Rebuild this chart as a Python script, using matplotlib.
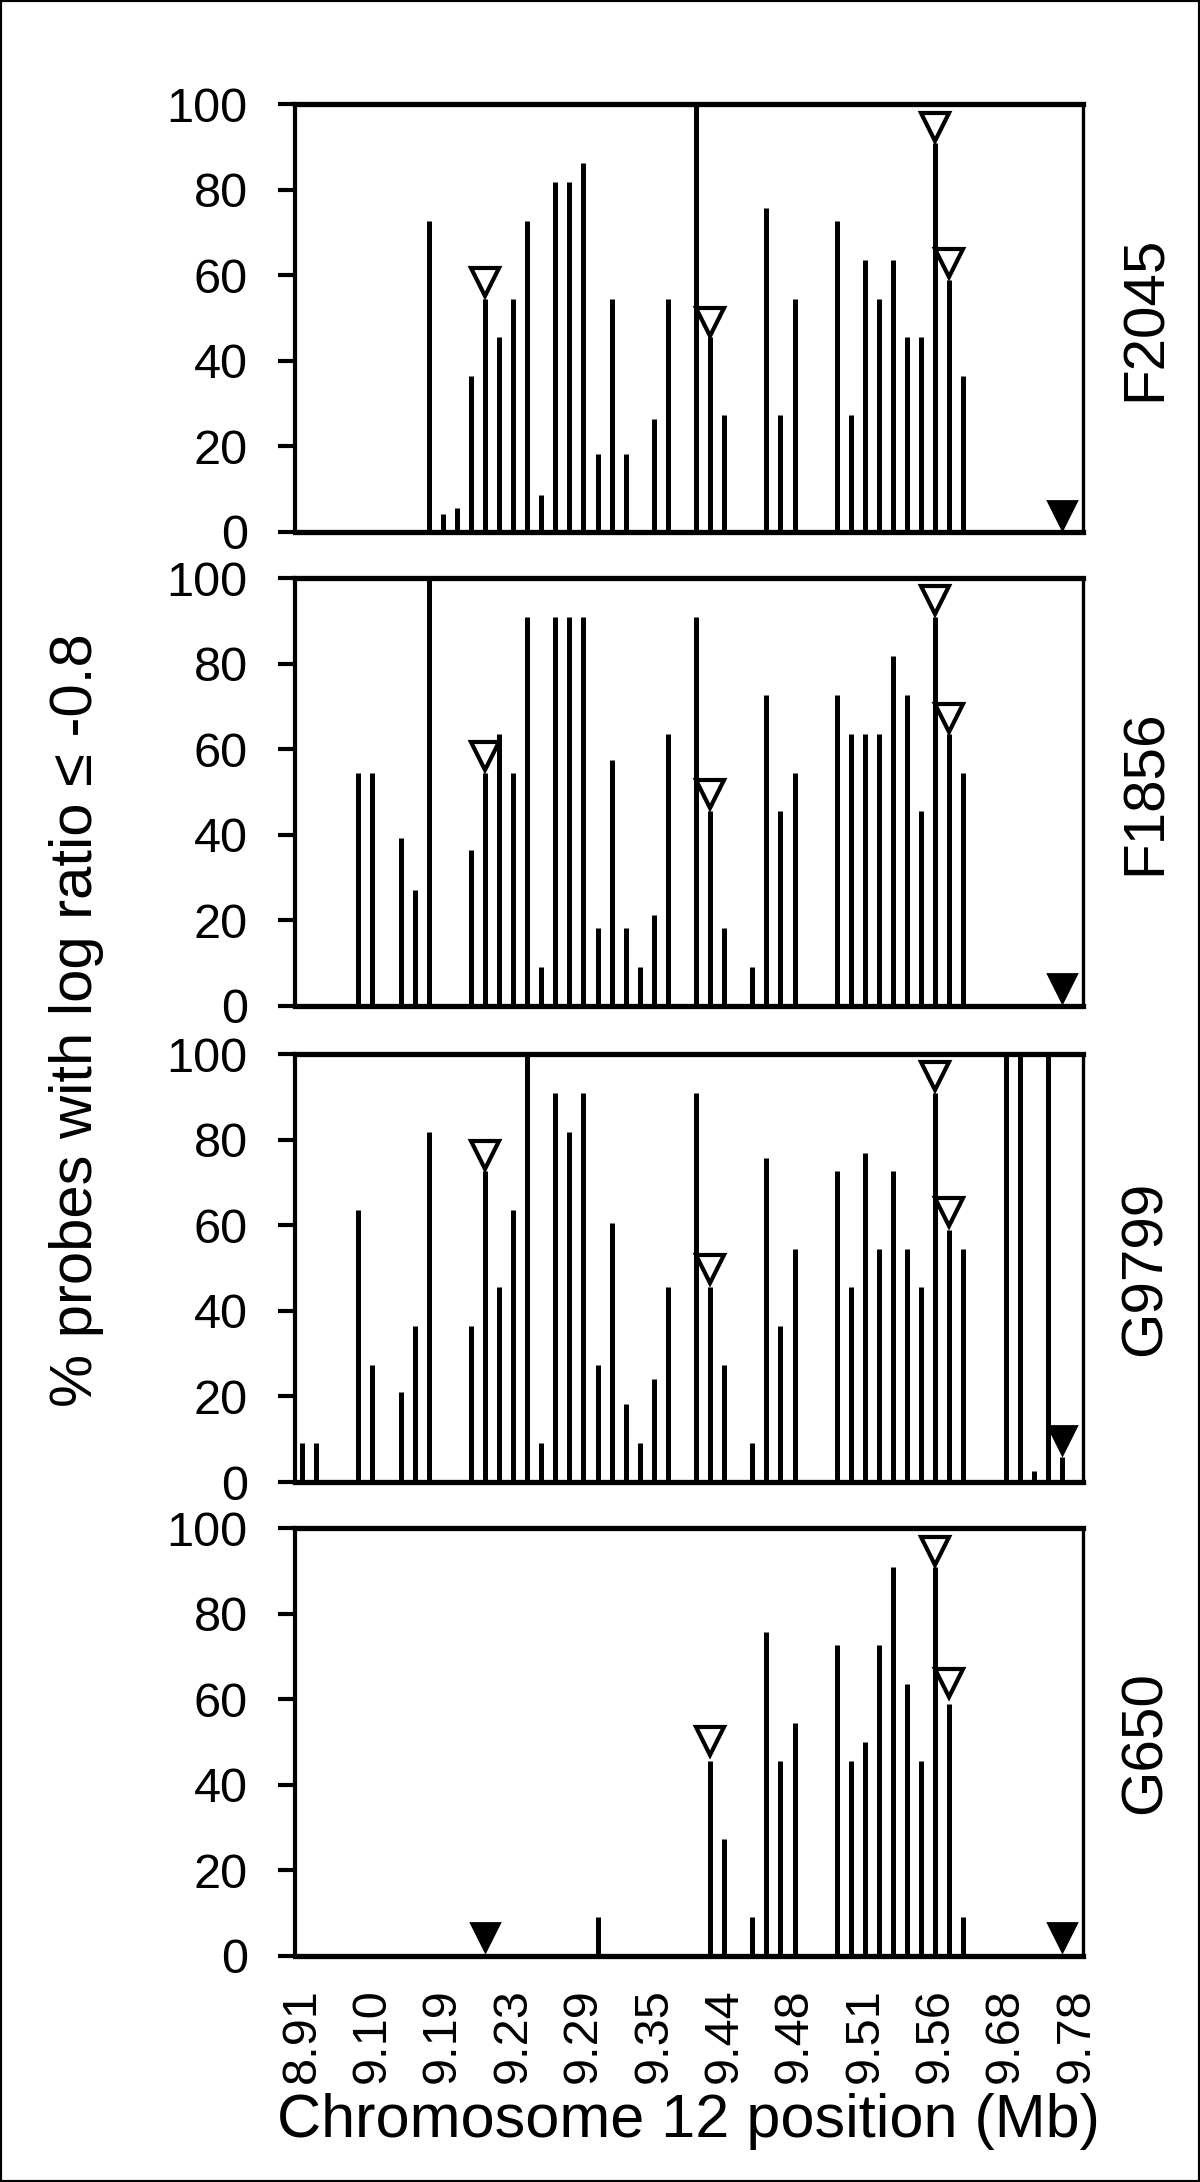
import numpy as np
import matplotlib.pyplot as plt
from matplotlib.patches import Rectangle

plt.rcParams['font.family'] = ['Liberation Sans', 'DejaVu Sans']

# x axis: 56 probe positions, one label every 5th probe
n_probes = 56
tick_labels = ['8.91', '9.10', '9.19', '9.23', '9.29', '9.35',
               '9.44', '9.48', '9.51', '9.56', '9.68', '9.78']
samples = ['F2045', 'F1856', 'G9799', 'G650']

# % probes with log ratio <= -0.8, per probe index
f2045_pos = [9, 10, 11, 12, 13, 14, 15, 16, 17, 18, 19, 20, 21, 22, 23, 25, 26,
             28, 29, 30, 33, 34, 35, 38, 39, 40, 41, 42, 43, 44, 45, 46, 47]
f2045_pct = [72.7, 4.1, 5.6, 36.4, 54.5, 45.5, 54.5, 72.7, 8.6, 81.8, 81.8, 86.3,
             18.2, 54.5, 18.2, 26.5, 54.5, 100, 45.5, 27.3, 75.8, 27.3, 54.5,
             72.7, 27.3, 63.6, 54.5, 63.6, 45.5, 45.5, 90.9, 59.0, 36.4]

f1856_pos = [4, 5, 7, 8, 9, 12, 13, 14, 15, 16, 17, 18, 19, 20, 21, 22, 23, 24,
             25, 26, 28, 29, 30, 32, 33, 34, 35, 38, 39, 40, 41, 42, 43, 44, 45,
             46, 47]
f1856_pct = [54.5, 54.5, 39.2, 27.0, 100, 36.4, 54.5, 63.6, 54.5, 90.9, 9.1,
             90.9, 90.9, 90.9, 18.2, 57.5, 18.2, 9.1, 21.2, 63.6, 90.9, 45.5,
             18.2, 9.1, 72.7, 45.5, 54.5, 72.7, 63.6, 63.6, 63.6, 81.8, 72.7,
             45.5, 90.9, 63.6, 54.5]

g9799_pos = [0, 1, 4, 5, 7, 8, 9, 12, 13, 14, 15, 16, 17, 18, 19, 20, 21, 22,
             23, 24, 25, 26, 28, 29, 30, 32, 33, 34, 35, 38, 39, 40, 41, 42, 43,
             44, 45, 46, 47, 50, 51, 52, 53, 54]
g9799_pct = [9.1, 9.1, 63.6, 27.3, 21.0, 36.4, 81.8, 36.4, 72.7, 45.5, 63.6,
             100, 9.1, 90.9, 81.8, 90.9, 27.3, 60.6, 18.2, 9.1, 24.0, 45.5,
             90.9, 45.5, 27.3, 9.1, 75.8, 36.4, 54.5, 72.7, 45.5, 77.0, 54.5,
             72.7, 54.5, 45.5, 90.9, 59.0, 54.5, 100, 100, 2.6, 100, 5.9]

g650_pos = [21, 29, 30, 32, 33, 34, 35, 38, 39, 40, 41, 42, 43, 44, 45, 46, 47]
g650_pct = [9.1, 45.5, 27.3, 9.1, 75.8, 45.5, 54.5, 72.7, 45.5, 50.0, 72.7,
            90.9, 63.6, 45.5, 90.9, 59.0, 9.1]

# open triangle markers
f2045_open_pos = [13, 29, 45, 46]
f2045_open_val = [58.5, 49.0, 94.8, 63.0]
f1856_open_pos = [13, 29, 45, 46]
f1856_open_val = [58.4, 49.5, 95.0, 67.4]
g9799_open_pos = [13, 29, 45, 46]
g9799_open_val = [76.5, 49.8, 94.9, 63.1]
g650_open_pos = [29, 45, 46]
g650_open_val = [50.2, 94.8, 63.9]

# filled triangle markers
f2045_fill_pos = [54]
f2045_fill_val = [4.0]
f1856_fill_pos = [54]
f1856_fill_val = [4.2]
g9799_fill_pos = [54]
g9799_fill_val = [9.8]
g650_fill_pos = [13, 54]
g650_fill_val = [4.5, 4.5]

panels = [
    (f2045_pos, f2045_pct, f2045_open_pos, f2045_open_val, f2045_fill_pos, f2045_fill_val),
    (f1856_pos, f1856_pct, f1856_open_pos, f1856_open_val, f1856_fill_pos, f1856_fill_val),
    (g9799_pos, g9799_pct, g9799_open_pos, g9799_open_val, g9799_fill_pos, g9799_fill_val),
    (g650_pos, g650_pct, g650_open_pos, g650_open_val, g650_fill_pos, g650_fill_val),
]

fig = plt.figure(figsize=(12, 21.82), dpi=100)

left, width, height = 0.2458, 0.6567, 0.196
bottoms = [0.7562, 0.5390, 0.3208, 0.1036]

for k, (pos, pct, opos, oval, fpos, fval) in enumerate(panels):
    ax = fig.add_axes([left, bottoms[k], width, height])
    ax.vlines(pos, 0, pct, color='black', lw=3.6)
    ax.plot(opos, oval, linestyle='none', marker='v', ms=20, mfc='white',
            mec='black', mew=3.0, zorder=5, clip_on=False)
    ax.plot(fpos, fval, linestyle='none', marker='v', ms=20, mfc='black',
            mec='black', mew=2.0, zorder=5, clip_on=False)

    ax.set_xlim(-0.5, n_probes - 0.5)
    ax.set_ylim(0, 100)
    ax.set_yticks(np.arange(0, 101, 20))
    ax.tick_params(axis='y', labelsize=35, length=12, width=3.0, direction='out', pad=22)
    for s in ['top', 'bottom']:
        ax.spines[s].set_linewidth(3.8)
    ax.spines['left'].set_linewidth(3.0)
    ax.spines['right'].set_linewidth(2.4)

    ax.set_xticks(np.arange(0, n_probes, 5))
    if k == 3:
        ax.set_xticklabels(tick_labels, rotation=90, fontsize=35)
        ax.tick_params(axis='x', length=0, pad=23)
    else:
        ax.set_xticklabels([])
        ax.tick_params(axis='x', length=0)

    fig.text(0.955, bottoms[k] + height / 2, samples[k], rotation=90,
             fontsize=42, ha='center', va='center')

fig.text(0.064, 0.5325, '% probes with log ratio \u2264 -0.8', rotation=90,
         fontsize=43, ha='center', va='center')
fig.text(0.5733, 0.0275, 'Chromosome 12 position (Mb)', fontsize=44,
         ha='center', va='center')

fig.patches.append(Rectangle((0, 0), 1, 1, transform=fig.transFigure,
                             fill=False, lw=3, edgecolor='black'))

fig.savefig('out.png', dpi=100)
